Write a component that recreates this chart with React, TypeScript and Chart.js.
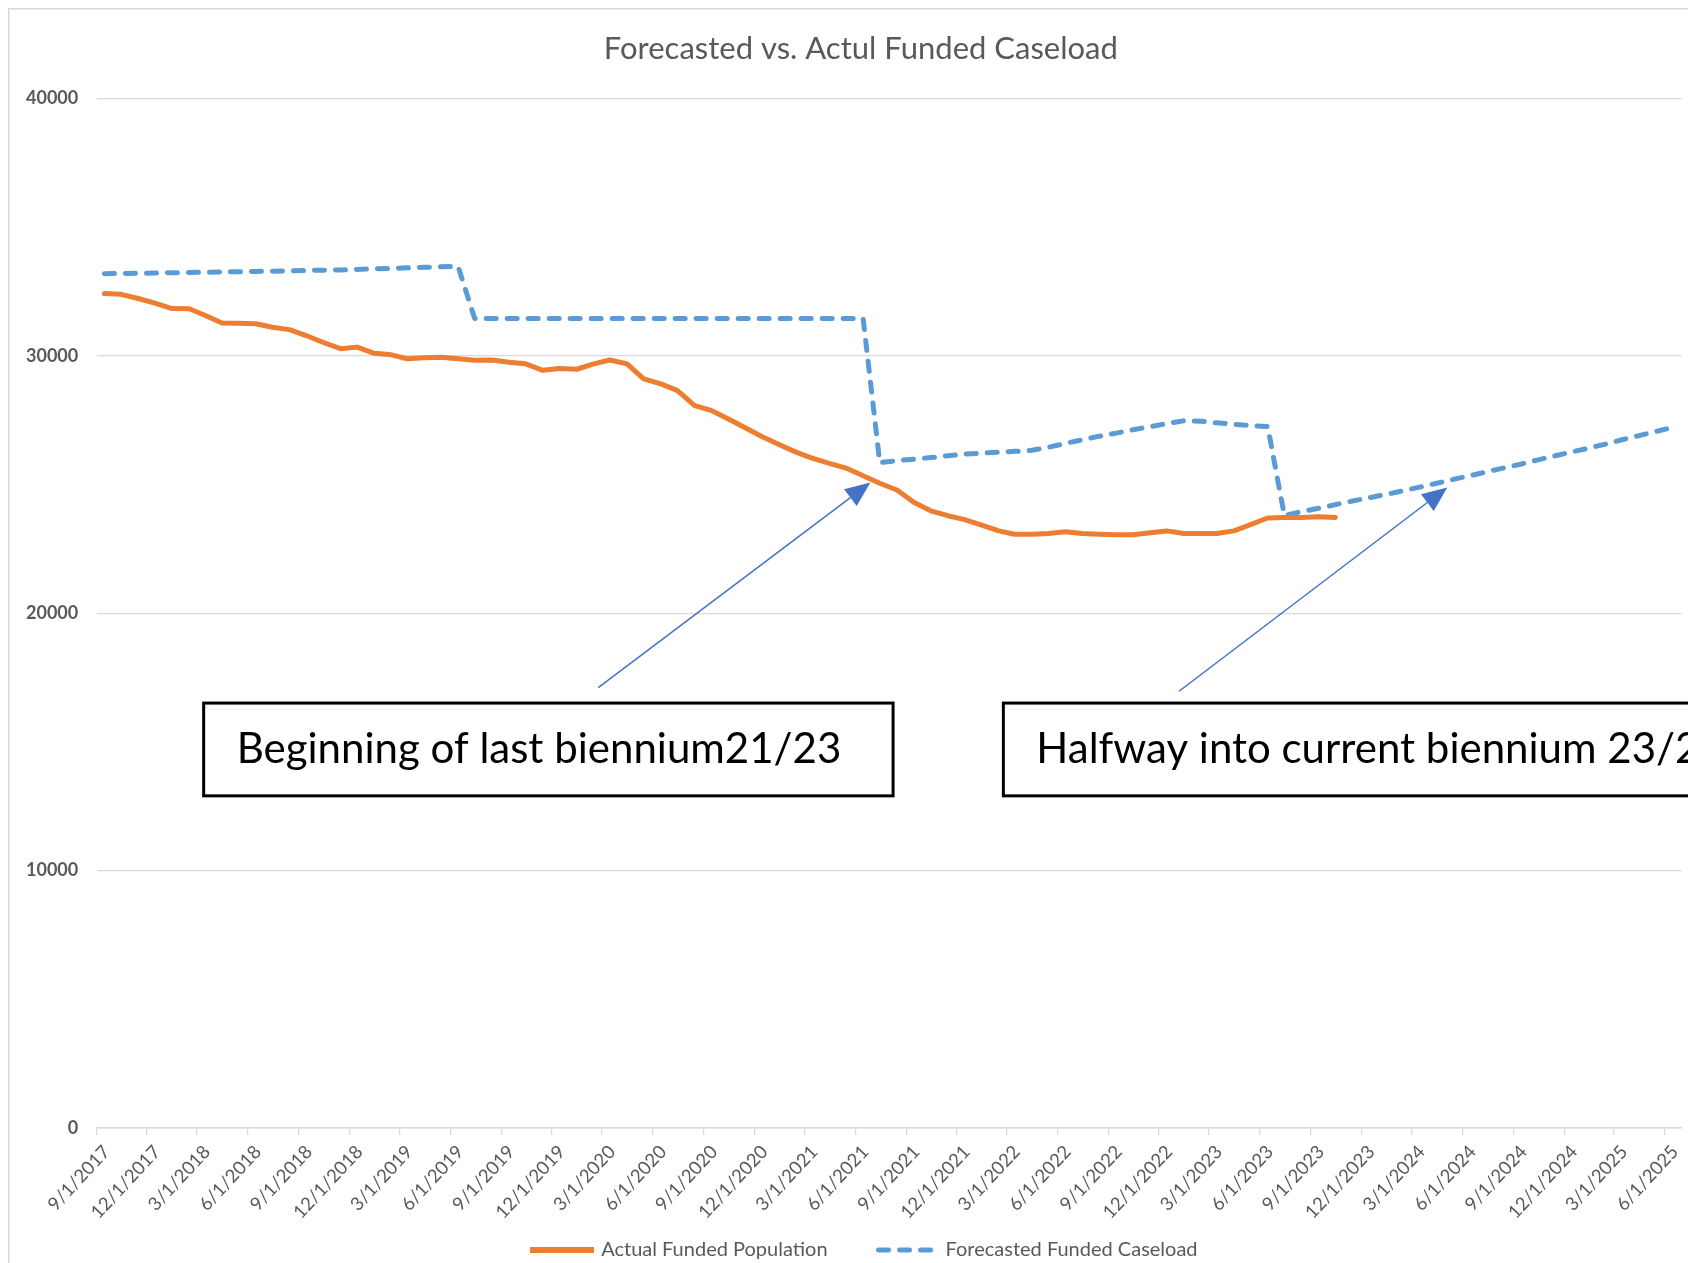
import React, { useEffect, useRef } from 'react';
import { Chart, registerables } from 'chart.js';

Chart.register(...registerables);

// ---------------- data ----------------
const TITLE = 'Forecasted vs. Actul Funded Caseload';
const SERIES_NAMES = ['Actual Funded Population', 'Forecasted Funded Caseload'];

const DATES = [
  '9/15/2017', '10/15/2017', '11/15/2017', '12/15/2017',
  '1/15/2018', '2/15/2018', '3/15/2018', '4/15/2018', '5/15/2018', '6/15/2018',
  '7/15/2018', '8/15/2018', '9/15/2018', '10/15/2018', '11/15/2018', '12/15/2018',
  '1/15/2019', '2/15/2019', '3/15/2019', '4/15/2019', '5/15/2019', '6/15/2019',
  '7/15/2019', '8/15/2019', '9/15/2019', '10/15/2019', '11/15/2019', '12/15/2019',
  '1/15/2020', '2/15/2020', '3/15/2020', '4/15/2020', '5/15/2020', '6/15/2020',
  '7/15/2020', '8/15/2020', '9/15/2020', '10/15/2020', '11/15/2020', '12/15/2020',
  '1/15/2021', '2/15/2021', '3/15/2021', '4/15/2021', '5/15/2021', '6/15/2021',
  '7/15/2021', '8/15/2021', '9/15/2021', '10/15/2021', '11/15/2021', '12/15/2021',
  '1/15/2022', '2/15/2022', '3/15/2022', '4/15/2022', '5/15/2022', '6/15/2022',
  '7/15/2022', '8/15/2022', '9/15/2022', '10/15/2022', '11/15/2022', '12/15/2022',
  '1/15/2023', '2/15/2023', '3/15/2023', '4/15/2023', '5/15/2023', '6/15/2023',
  '7/15/2023', '8/15/2023', '9/15/2023', '10/15/2023', '11/15/2023', '12/15/2023',
  '1/15/2024', '2/15/2024', '3/15/2024', '4/15/2024', '5/15/2024', '6/15/2024',
  '7/15/2024', '8/15/2024', '9/15/2024', '10/15/2024', '11/15/2024', '12/15/2024',
  '1/15/2025', '2/15/2025', '3/15/2025', '4/15/2025', '5/15/2025', '6/15/2025',
];

// Actual funded population (9/2017 .. 10/2023)
const ACTUAL = [
  32420, 32390, 32230, 32050, 31840, 31830, 31580, 31280, 31270, 31250,
  31110, 31020, 30780, 30520, 30280, 30340, 30100, 30040, 29890, 29930,
  29950, 29890, 29830, 29840, 29750, 29690, 29440, 29510, 29480, 29690,
  29840, 29690, 29110, 28910, 28650, 28070, 27870, 27550, 27200, 26860,
  26550, 26250, 26030, 25820, 25640, 25340, 25050, 24790, 24300, 23980,
  23790, 23640, 23420, 23200, 23070, 23070, 23100, 23170, 23100, 23070,
  23050, 23050, 23130, 23200, 23100, 23100, 23100, 23200, 23440, 23700,
  23720, 23720, 23750, 23720,
];

// Forecasted funded caseload (9/2017 .. 6/2025)
const FORECAST = [
  33190, 33200, 33210, 33220, 33230, 33240, 33250, 33260, 33270, 33280,
  33290, 33300, 33320, 33330, 33340, 33360, 33380, 33400, 33420, 33440,
  33460, 33480,
  31450, 31450, 31450, 31450, 31450, 31450, 31450, 31450, 31450, 31450,
  31450, 31450, 31450, 31450, 31450, 31450, 31450, 31450, 31450, 31450,
  31450, 31450, 31450, 31450,
  25850, 25930, 25990, 26050, 26120, 26180, 26220, 26260, 26290, 26330,
  26450, 26600, 26740, 26880, 27000, 27130, 27250, 27370, 27480, 27460,
  27400, 27340, 27290, 27250,
  23800, 23950, 24080, 24220, 24360, 24490, 24620, 24760, 24900, 25050,
  25200, 25350, 25500, 25650, 25800, 25960, 26120, 26270, 26420, 26580,
  26740, 26900, 27060, 27220,
];

const X_TICK_LABELS = [
  '9/1/2017', '12/1/2017', '3/1/2018', '6/1/2018', '9/1/2018', '12/1/2018',
  '3/1/2019', '6/1/2019', '9/1/2019', '12/1/2019', '3/1/2020', '6/1/2020',
  '9/1/2020', '12/1/2020', '3/1/2021', '6/1/2021', '9/1/2021', '12/1/2021',
  '3/1/2022', '6/1/2022', '9/1/2022', '12/1/2022', '3/1/2023', '6/1/2023',
  '9/1/2023', '12/1/2023', '3/1/2024', '6/1/2024', '9/1/2024', '12/1/2024',
  '3/1/2025', '6/1/2025',
];
const X_MIN_DATE = '9/1/2017';
const X_MAX_DATE = '7/1/2025';
const Y_TICKS = [0, 10000, 20000, 30000, 40000];

const ANNOTATIONS = [
  {
    text: 'Beginning of last biennium21/23',
    boxFrom: '3/13/2018', boxTo: '8/8/2021' as string | null,
    arrowFrom: ['2/23/2020', 17110] as [string, number],
    arrowTo: ['6/28/2021', 25080] as [string, number],
  },
  {
    text: 'Halfway into current biennium 23/25',
    boxFrom: '2/23/2022', boxTo: null as string | null, // runs past the right edge
    arrowFrom: ['1/6/2023', 16970] as [string, number],
    arrowTo: ['5/4/2024', 24890] as [string, number],
  },
];
const BOX_TOP = 16510;
const BOX_BOTTOM = 12905;

// ---------------- helpers ----------------
const BASE = Date.UTC(2017, 8, 1);
function dayNum(s: string): number {
  const [m, d, y] = s.split('/').map(Number);
  return (Date.UTC(y, m - 1, d) - BASE) / 86400000;
}

const FONT = 'Lato, "Open Sans", sans-serif';
const TEXT_GRAY = '#595959';
const GRID = '#d9d9d9';
const ORANGE = '#ED7D31';
const BLUE = '#5B9BD5';

const CANVAS_W = 1712;
const CANVAS_H = 1262;
const PLOT_LEFT = 88.7;
const PLOT_RIGHT = 1673.7;
const TITLE_SHIFT = 16;
const LEGEND_SHIFT = 20;

function makeSample(color: string, w: number, h: number, lw: number, dash: number[], cap: CanvasLineCap) {
  const c = document.createElement('canvas');
  c.width = w;
  c.height = h;
  const g = c.getContext('2d')!;
  g.strokeStyle = color;
  g.lineWidth = lw;
  g.lineCap = cap;
  g.setLineDash(dash);
  g.beginPath();
  const inset = cap === 'round' ? lw / 2 : 0;
  g.moveTo(inset, h / 2);
  g.lineTo(w - inset, h / 2);
  g.stroke();
  return c;
}

const framePlugin = {
  id: 'frame',
  afterLayout(chart: any) {
    // centre title and legend on the (wider, partly hidden) chart object like the source
    if (chart.titleBlock) {
      chart.titleBlock.left += TITLE_SHIFT;
      chart.titleBlock.right += TITLE_SHIFT;
    }
    if (chart.legend) {
      chart.legend.left += LEGEND_SHIFT;
      chart.legend.right += LEGEND_SHIFT;
    }
    // let the rotated date labels run below the axis box without being clipped
    if (chart.scales.x) chart.scales.x.bottom = chart.height;
  },
  beforeDraw(chart: any) {
    const { ctx, width, height } = chart;
    ctx.save();
    ctx.fillStyle = '#ffffff';
    ctx.fillRect(0, 0, width, height);
    ctx.strokeStyle = GRID;
    ctx.lineWidth = 1.5;
    ctx.beginPath();
    ctx.moveTo(0.75, height);
    ctx.lineTo(0.75, 0.75);
    ctx.lineTo(width, 0.75);
    ctx.stroke();
    ctx.restore();
  },
};

const annotationPlugin = {
  id: 'bienniumNotes',
  afterDraw(chart: any) {
    const { ctx } = chart;
    const xs = chart.scales.x;
    const ys = chart.scales.y;
    ctx.save();
    for (const a of ANNOTATIONS) {
      const x1 = xs.getPixelForValue(dayNum(a.arrowFrom[0]));
      const y1 = ys.getPixelForValue(a.arrowFrom[1]);
      const x2 = xs.getPixelForValue(dayNum(a.arrowTo[0]));
      const y2 = ys.getPixelForValue(a.arrowTo[1]);
      const ang = Math.atan2(y2 - y1, x2 - x1);
      const L = 25;
      const HW = 10.5;
      const bx = x2 - L * Math.cos(ang);
      const by = y2 - L * Math.sin(ang);
      ctx.strokeStyle = '#4472C4';
      ctx.lineWidth = 1.5;
      ctx.beginPath();
      ctx.moveTo(x1, y1);
      ctx.lineTo(bx, by);
      ctx.stroke();
      ctx.fillStyle = '#4472C4';
      ctx.beginPath();
      ctx.moveTo(x2, y2);
      ctx.lineTo(bx - HW * Math.sin(ang), by + HW * Math.cos(ang));
      ctx.lineTo(bx + HW * Math.sin(ang), by - HW * Math.cos(ang));
      ctx.closePath();
      ctx.fill();

      const l = xs.getPixelForValue(dayNum(a.boxFrom));
      const r = a.boxTo ? xs.getPixelForValue(dayNum(a.boxTo)) : chart.width + 40;
      const t = ys.getPixelForValue(BOX_TOP);
      const b = ys.getPixelForValue(BOX_BOTTOM);
      ctx.fillStyle = '#ffffff';
      ctx.fillRect(l, t, r - l, b - t);
      ctx.strokeStyle = '#000000';
      ctx.lineWidth = 3;
      ctx.strokeRect(l, t, r - l, b - t);
      ctx.fillStyle = '#000000';
      ctx.font = `42px ${FONT}`;
      ctx.textAlign = 'left';
      ctx.textBaseline = 'middle';
      ctx.fillText(a.text, l + 33, (t + b) / 2);
    }
    ctx.restore();
  },
};

export default function App() {
  const ref = useRef<HTMLCanvasElement | null>(null);

  useEffect(() => {
    if (!ref.current) return;
    const samples = [
      makeSample(ORANGE, 64, 10, 6, [], 'butt'),
      makeSample(BLUE, 60, 10, 5, [10, 11], 'round'),
    ];
    const chart = new Chart(ref.current, {
      type: 'line',
      data: {
        datasets: [
          {
            label: SERIES_NAMES[0],
            data: ACTUAL.map((v, i) => ({ x: dayNum(DATES[i]), y: v })),
            borderColor: ORANGE,
            backgroundColor: ORANGE,
            borderWidth: 5,
            pointRadius: 0,
            tension: 0,
            fill: false,
            borderCapStyle: 'round',
            borderJoinStyle: 'round',
          },
          {
            label: SERIES_NAMES[1],
            data: FORECAST.map((v, i) => ({ x: dayNum(DATES[i]), y: v })),
            borderColor: BLUE,
            backgroundColor: BLUE,
            borderWidth: 5,
            borderDash: [10, 11],
            pointRadius: 0,
            tension: 0,
            fill: false,
            borderCapStyle: 'round',
            borderJoinStyle: 'round',
          },
        ],
      } as any,
      options: {
        animation: false,
        responsive: false,
        devicePixelRatio: 1,
        layout: { padding: { left: 0, right: CANVAS_W - PLOT_RIGHT, top: 0, bottom: 0 } },
        scales: {
          x: {
            type: 'linear',
            min: dayNum(X_MIN_DATE),
            max: dayNum(X_MAX_DATE),
            afterBuildTicks: (s: any) => {
              s.ticks = X_TICK_LABELS.map((l) => ({ value: dayNum(l) }));
            },
            afterFit: (s: any) => {
              s.height = 63;
            },
            ticks: {
              autoSkip: false,
              maxRotation: 47,
              minRotation: 47,
              padding: 6,
              labelOffset: 10,
              color: TEXT_GRAY,
              font: { family: FONT, size: 18.5 },
              callback: (_v: any, i: number) => X_TICK_LABELS[i],
            },
            grid: {
              drawOnChartArea: false,
              drawTicks: true,
              tickLength: 7,
              color: GRID,
              lineWidth: 1.3,
            },
            border: { display: true, color: GRID, width: 1.5 },
          },
          y: {
            type: 'linear',
            min: Y_TICKS[0],
            max: Y_TICKS[Y_TICKS.length - 1],
            afterBuildTicks: (s: any) => {
              s.ticks = Y_TICKS.map((v) => ({ value: v }));
            },
            afterFit: (s: any) => {
              s.width = PLOT_LEFT;
            },
            ticks: {
              padding: 18.5,
              color: TEXT_GRAY,
              font: { family: FONT, size: 18, weight: 'bold' },
              callback: (v: any) => String(v),
            },
            grid: { color: GRID, lineWidth: 1.3, drawTicks: false },
            border: { display: false },
          },
        },
        plugins: {
          title: {
            display: true,
            text: TITLE,
            color: TEXT_GRAY,
            font: { family: FONT, size: 31, weight: 'normal' },
            padding: { top: 22.4, bottom: 30.9 },
          },
          legend: {
            display: true,
            position: 'bottom',
            labels: {
              usePointStyle: true,
              pointStyleWidth: 59,
              padding: 49,
              color: TEXT_GRAY,
              font: { family: FONT, size: 20 },
              generateLabels: (c: any) =>
                Chart.defaults.plugins.legend.labels
                  .generateLabels(c)
                  .map((it: any, i: number) => ({ ...it, pointStyle: samples[i] })),
            },
          },
          tooltip: { enabled: false },
        },
      } as any,
      plugins: [framePlugin, annotationPlugin],
    });
    return () => chart.destroy();
  }, []);

  return (
    <>
      <style>{`html,body{overflow:hidden;}`}</style>
      <canvas
        ref={ref}
        width={CANVAS_W}
        height={CANVAS_H}
        style={{
          display: 'block',
          position: 'fixed',
          left: 8,
          top: 8,
          width: CANVAS_W,
          height: CANVAS_H,
        }}
      />
    </>
  );
}
